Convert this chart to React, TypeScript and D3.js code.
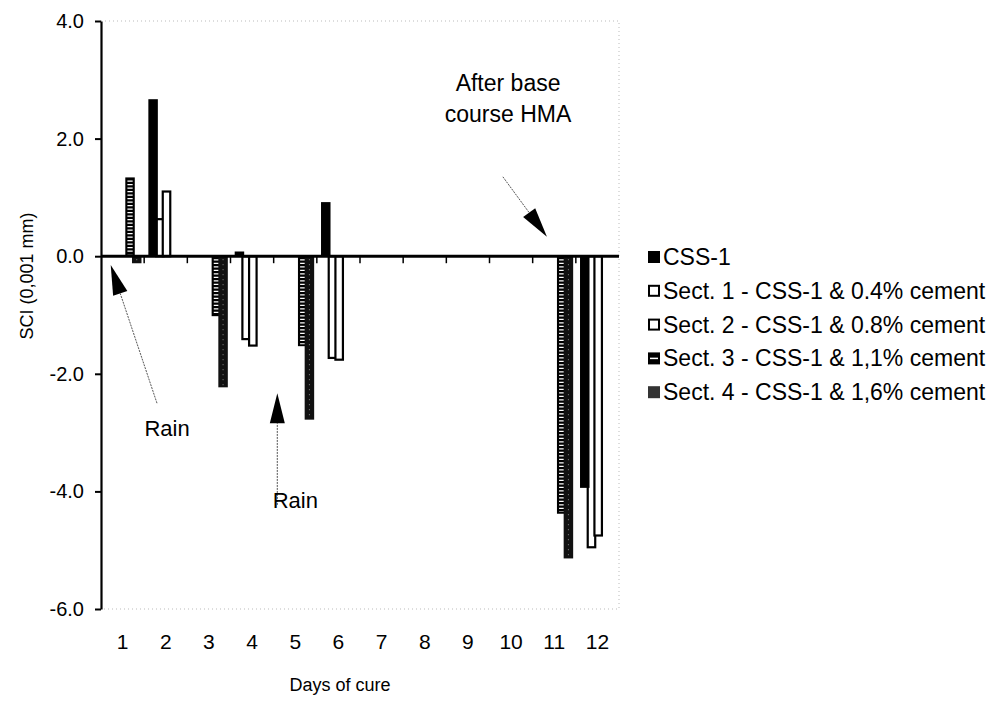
import React, { useRef, useEffect } from 'react';
import * as d3 from 'd3';

const days = ['1', '2', '3', '4', '5', '6', '7', '8', '9', '10', '11', '12'];
const seriesNames = [
  'CSS-1',
  'Sect. 1 - CSS-1 & 0.4% cement',
  'Sect. 2 - CSS-1 & 0.8% cement',
  'Sect. 3 - CSS-1 & 1,1% cement',
  'Sect. 4 - CSS-1 & 1,6% cement',
];
const css1 = [null, 2.67, null, 0.08, null, 0.92, null, null, null, null, null, -3.94];
const sect1 = [null, 0.63, null, -1.41, null, -1.73, null, null, null, null, null, -4.95];
const sect2 = [null, 1.1, null, -1.52, null, -1.76, null, null, null, null, null, -4.75];
const sect3 = [1.34, null, -1.02, null, -1.53, null, null, null, null, null, -4.38, null];
const sect4 = [-0.12, null, -2.23, null, -2.78, null, null, null, null, null, -5.14, null];
const yTicks = [-6, -4, -2, 0, 2, 4];

const FONT = '"Liberation Sans", Arial, sans-serif';

export default function App() {
  const svgRef = useRef<SVGSVGElement>(null);

  useEffect(() => {
    if (!svgRef.current) return;
    const svg = d3.select(svgRef.current);
    svg.selectAll('*').remove();

    const left = 101;
    const right = 619;
    const top = 21;
    const bottom = 609;

    const x = d3.scaleBand<string>().domain(days).range([left, right]).padding(0);
    const xLin = d3.scaleLinear().domain([0.5, 12.5]).range([left, right]);
    const y = d3.scaleLinear().domain([-6, 4]).range([bottom, top]);
    const bw = x.bandwidth();
    const barW = bw * 0.22;
    const inner = d3.scaleLinear().domain([0, 4]).range([bw * 0.097, bw * 0.718]);

    // dotted frame (top, right, bottom)
    svg
      .append('path')
      .attr('d', `M${left},${top}H${right}V${bottom}H${left}`)
      .attr('fill', 'none')
      .attr('stroke', '#bbb')
      .attr('stroke-width', 1)
      .attr('stroke-dasharray', '1 3');

    const allSeries = [css1, sect1, sect2, sect3, sect4];
    // draw order: sections first, CSS-1 on top
    const order = [1, 2, 3, 4, 0];

    order.forEach((si) => {
      const vals = allSeries[si];
      const pts = vals
        .map((v, i) => ({ v, day: days[i] }))
        .filter((d) => d.v !== null) as { v: number; day: string }[];
      const g = svg.append('g');
      const bx = (d: { day: string }) => (x(d.day) ?? 0) + inner(si);
      const by = (d: { v: number }) => Math.min(y(d.v), y(0));
      const bh = (d: { v: number }) => Math.abs(y(d.v) - y(0));

      if (si === 1 || si === 2) {
        g.selectAll('rect')
          .data(pts)
          .enter()
          .append('rect')
          .attr('x', (d) => bx(d) + 1)
          .attr('y', by)
          .attr('width', barW - 2)
          .attr('height', bh)
          .attr('fill', '#fff')
          .attr('stroke', '#000')
          .attr('stroke-width', 2.2);
      } else {
        g.selectAll('rect')
          .data(pts)
          .enter()
          .append('rect')
          .attr('x', bx)
          .attr('y', by)
          .attr('width', barW)
          .attr('height', bh)
          .attr('fill', si === 4 ? '#111' : '#000');
        if (si === 3) {
          g.selectAll('line')
            .data(pts)
            .enter()
            .append('line')
            .attr('x1', (d) => bx(d) + barW / 2)
            .attr('x2', (d) => bx(d) + barW / 2)
            .attr('y1', (d) => by(d) + 3)
            .attr('y2', (d) => by(d) + bh(d) - 2)
            .attr('stroke', '#fff')
            .attr('stroke-width', barW * 0.55)
            .attr('stroke-dasharray', '1.3 2.2');
        }
        if (si === 4) {
          g.selectAll('line')
            .data(pts)
            .enter()
            .append('line')
            .attr('x1', (d) => bx(d) + barW / 2)
            .attr('x2', (d) => bx(d) + barW / 2)
            .attr('y1', (d) => by(d) + 3)
            .attr('y2', (d) => by(d) + bh(d) - 2)
            .attr('stroke', '#888')
            .attr('stroke-width', 1)
            .attr('stroke-dasharray', '1 4');
        }
      }
    });

    // zero line with category ticks
    svg
      .append('line')
      .attr('x1', left)
      .attr('x2', right)
      .attr('y1', y(0))
      .attr('y2', y(0))
      .attr('stroke', '#000')
      .attr('stroke-width', 3);
    svg
      .append('g')
      .selectAll('line')
      .data(days.slice(1))
      .enter()
      .append('line')
      .attr('x1', (d) => x(d) ?? 0)
      .attr('x2', (d) => x(d) ?? 0)
      .attr('y1', y(0))
      .attr('y2', y(0) + 7)
      .attr('stroke', '#000')
      .attr('stroke-width', 1.5);

    // y axis
    const yAxis = svg
      .append('g')
      .attr('transform', `translate(${left},0)`)
      .call(
        d3
          .axisLeft(y)
          .tickValues(yTicks)
          .tickFormat((d) => (+d).toFixed(1))
          .tickSize(6)
          .tickSizeOuter(0)
      );
    yAxis.select('.domain').attr('stroke-width', 2.2);
    yAxis.selectAll('.tick line').attr('stroke-width', 2);
    yAxis
      .selectAll('.tick text')
      .attr('font-family', FONT)
      .attr('font-size', 20)
      .attr('x', -17)
      .attr('fill', '#000');

    // x tick labels
    svg
      .append('g')
      .selectAll('text')
      .data(days)
      .enter()
      .append('text')
      .attr('x', (d) => (x(d) ?? 0) + bw / 2)
      .attr('y', 649)
      .attr('text-anchor', 'middle')
      .attr('font-family', FONT)
      .attr('font-size', 21)
      .text((d) => d);

    // axis titles
    svg
      .append('text')
      .attr('x', 340)
      .attr('y', 691)
      .attr('text-anchor', 'middle')
      .attr('font-family', FONT)
      .attr('font-size', 18)
      .text('Days of cure');
    svg
      .append('text')
      .attr('transform', `translate(33,276) rotate(-90)`)
      .attr('text-anchor', 'middle')
      .attr('font-family', FONT)
      .attr('font-size', 18)
      .text('SCI (0,001 mm)');

    // annotations
    const arrow = (x1: number, v1: number, x2: number, v2: number) => {
      const sx = xLin(x1);
      const sy = y(v1);
      const tx = xLin(x2);
      const ty = y(v2);
      const ang = Math.atan2(ty - sy, tx - sx);
      const len = 30;
      const half = 7.5;
      const bxp = tx - len * Math.cos(ang);
      const byp = ty - len * Math.sin(ang);
      svg
        .append('line')
        .attr('x1', sx)
        .attr('y1', sy)
        .attr('x2', bxp)
        .attr('y2', byp)
        .attr('stroke', '#555')
        .attr('stroke-width', 1)
        .attr('stroke-dasharray', '2 1');
      const p1 = [bxp + half * Math.sin(ang), byp - half * Math.cos(ang)];
      const p2 = [bxp - half * Math.sin(ang), byp + half * Math.cos(ang)];
      svg
        .append('path')
        .attr('d', `M${tx},${ty}L${p1[0]},${p1[1]}L${p2[0]},${p2[1]}Z`)
        .attr('fill', '#000');
    };
    arrow(1.797, -2.5, 0.725, -0.15);
    arrow(4.584, -4.23, 4.584, -2.33);
    arrow(9.81, 1.35, 10.83, 0.33);

    const label = (xv: number, yv: number, t: string, size: number) =>
      svg
        .append('text')
        .attr('x', xLin(xv))
        .attr('y', y(yv))
        .attr('text-anchor', 'middle')
        .attr('font-family', FONT)
        .attr('font-size', size)
        .text(t);
    label(2.03, -3.06, 'Rain', 22);
    label(5.0, -4.28, 'Rain', 22);
    label(9.93, 2.81, 'After base', 23);
    label(9.93, 2.28, 'course HMA', 23);

    // legend
    const legend = svg.append('g').attr('transform', 'translate(648,257)');
    seriesNames.forEach((name, i) => {
      const row = legend.append('g').attr('transform', `translate(0,${i * 33.8})`);
      if (i === 1 || i === 2) {
        row
          .append('rect')
          .attr('x', 1)
          .attr('y', -5)
          .attr('width', 10)
          .attr('height', 10)
          .attr('fill', '#fff')
          .attr('stroke', '#000')
          .attr('stroke-width', 2);
      } else {
        row
          .append('rect')
          .attr('x', 0)
          .attr('y', -6)
          .attr('width', 12)
          .attr('height', 12)
          .attr('fill', i === 4 ? '#333' : '#000');
        if (i === 3) {
          row
            .append('line')
            .attr('x1', 2)
            .attr('x2', 10)
            .attr('y1', 0)
            .attr('y2', 0)
            .attr('stroke', '#fff')
            .attr('stroke-width', 1.5);
        }
      }
      row
        .append('text')
        .attr('x', 15)
        .attr('y', 8)
        .attr('font-family', FONT)
        .attr('font-size', 23)
        .text(name);
    });
  }, []);

  return (
    <svg
      ref={svgRef}
      width={987}
      height={701}
      style={{ position: 'absolute', left: 0, top: 0, background: '#fff' }}
    />
  );
}
